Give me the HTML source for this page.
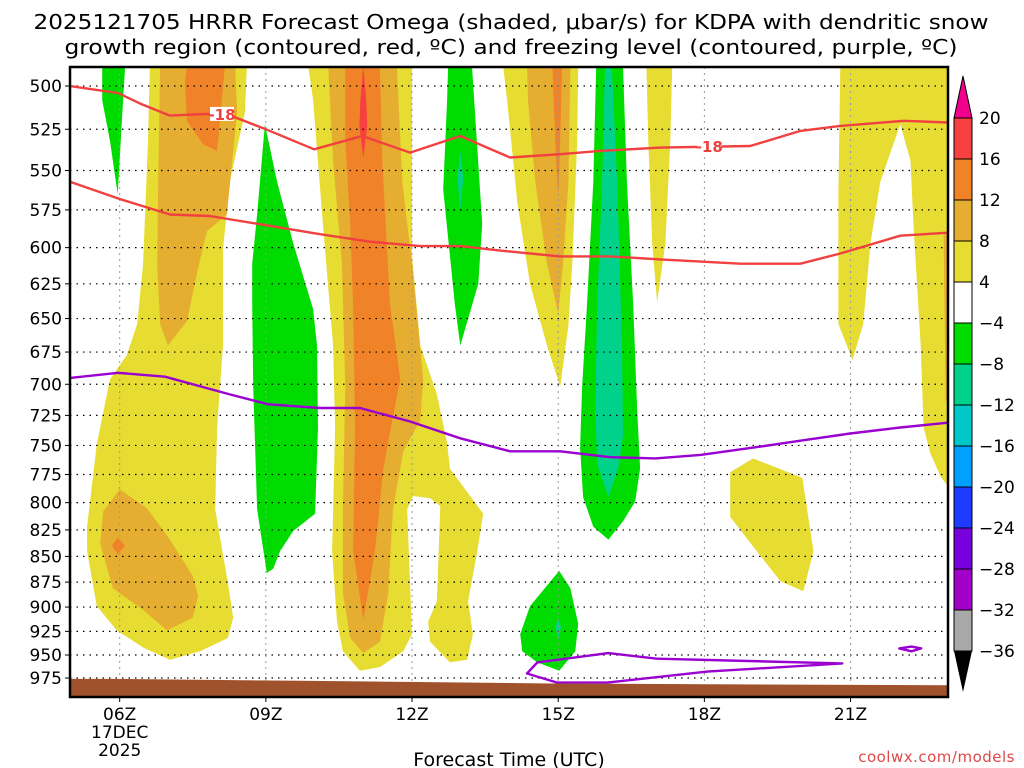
<!DOCTYPE html>
<html><head><meta charset="utf-8"><style>
html,body{margin:0;padding:0;background:#fff;}
svg{display:block;font-family:"DejaVu Sans","Liberation Sans",sans-serif;}
</style></head><body>
<svg id="chart" width="1024" height="768" viewBox="0 0 1024 768" xmlns="http://www.w3.org/2000/svg">
<text x="511" y="29" font-size="20" text-anchor="middle" textLength="955" lengthAdjust="spacingAndGlyphs">2025121705 HRRR Forecast Omega (shaded, μbar/s) for KDPA with dendritic snow</text>
<text x="511" y="54" font-size="20" text-anchor="middle" textLength="893" lengthAdjust="spacingAndGlyphs">growth region (contoured, red, ºC) and freezing level (contoured, purple, ºC)</text>
<g id="plot"></g>
<g id="axes"></g>
<g id="cbar"></g>
<text x="509" y="766" font-size="19" text-anchor="middle">Forecast Time (UTC)</text>
<text x="1015" y="762" font-size="15" fill="#e04848" text-anchor="end" letter-spacing="0.5">coolwx.com/models</text>
</svg>
<script>
// ---- data ----
const pressureTicks = [500,525,550,575,600,625,650,675,700,725,750,775,800,825,850,875,900,925,950,975];
const hourTicks = [6,9,12,15,18,21];
const hourTickLabels = ["06Z","09Z","12Z","15Z","18Z","21Z"];
const cbarLevels = [20,16,12,8,4,-4,-8,-12,-16,-20,-24,-28,-32,-36];
const cbarColors = ["#f84040","#f08228","#e6ae30","#e6dc32","#ffffff","#00dc00","#00d28c","#00c8c8","#00a0ff","#1e3cff","#7800dc","#a000c8","#a8a8a8"];
// omega filled contour regions: [hour, hPa]
const yellowLeft = [[6.62,489],[8.61,489],[8.57,515],[8.26,557],[8.12,601],[8.12,670],[8.0,735],[7.96,806],[8.22,876],[8.33,911],[8.22,932],[7.65,946],[7.03,955],[6.48,942],[5.94,924],[5.53,899],[5.33,845],[5.33,822],[5.53,749],[5.8,696],[6.15,677],[6.36,654],[6.48,611],[6.58,532]];
const goldLeftUpper = [[6.83,489],[8.37,489],[8.41,515],[8.2,578],[7.79,589],[7.59,617],[7.38,652],[6.99,670],[6.83,654],[6.77,611],[6.79,557]];
const orangeLeftUpper = [[7.38,489],[8.16,489],[8.0,538],[7.71,534],[7.38,520],[7.34,498]];
const goldLeftLower = [[6.0,788],[6.56,805],[7.03,834],[7.5,869],[7.61,889],[7.5,911],[6.97,924],[6.48,903],[5.86,881],[5.6,838],[5.66,808]];
const orangeLeftLower = [[5.96,832],[6.11,840],[5.96,848],[5.84,840]];
const greenLeft = [[5.64,489],[6.11,489],[6.07,508],[5.96,565],[5.8,532],[5.64,508]];
const green09 = [[8.98,522],[9.23,557],[9.56,597],[9.97,643],[10.05,670],[10.07,735],[10.01,810],[9.56,826],[9.29,845],[9.15,862],[9.02,866],[8.82,806],[8.74,702],[8.72,640],[8.72,611],[8.82,578]];
const yellowCenter = [[9.87,489],[12.0,489],[12.0,605],[12.17,670],[12.51,708],[12.72,748],[12.78,770],[13.46,810],[13.34,845],[13.15,894],[13.25,928],[13.13,955],[12.78,958],[12.37,936],[12.33,915],[12.51,894],[12.53,866],[12.58,803],[12.37,796],[12.02,794],[11.9,806],[12.0,928],[11.82,946],[11.34,963],[10.93,967],[10.58,946],[10.46,915],[10.36,845],[10.42,735],[10.38,670],[10.17,584],[9.97,508]];
const goldCenter = [[10.28,489],[11.69,489],[11.8,557],[12.02,617],[12.23,696],[12.17,729],[11.82,755],[11.61,806],[11.51,886],[11.34,936],[11.0,948],[10.73,932],[10.58,886],[10.58,806],[10.63,702],[10.56,611],[10.38,544]];
const orangeCenter = [[10.63,489],[11.34,489],[11.39,544],[11.55,640],[11.76,696],[11.61,726],[11.41,770],[11.24,845],[11.0,913],[10.79,845],[10.83,735],[10.79,640],[10.73,584],[10.63,532]];
const redCenter = [[11.0,489],[11.06,508],[11.08,523],[11.0,542],[10.92,523],[10.94,508]];
const green13 = [[12.74,489],[13.23,489],[13.44,584],[13.36,625],[12.99,670],[12.88,640],[12.64,562],[12.72,508]];
const teal13 = [[12.99,538],[13.05,555],[12.99,575],[12.93,555]];
const yellow15 = [[13.87,489],[15.41,489],[15.39,532],[15.29,611],[15.21,655],[15.04,702],[14.77,670],[14.42,625],[14.16,570],[13.95,508]];
const gold15 = [[14.36,489],[15.25,489],[15.21,557],[15.1,611],[15.0,646],[14.77,611],[14.53,557],[14.38,508]];
const orange15 = [[14.88,489],[15.08,489],[15.04,532],[15.0,567],[14.94,532]];
const green16 = [[15.78,489],[16.33,489],[16.41,557],[16.54,640],[16.62,719],[16.68,770],[16.58,799],[16.33,817],[16.03,834],[15.72,822],[15.51,795],[15.45,752],[15.49,702],[15.59,640],[15.72,557]];
const teal16 = [[15.96,489],[16.1,489],[16.21,557],[16.31,670],[16.33,742],[16.23,770],[16.03,795],[15.8,766],[15.76,719],[15.8,640],[15.9,557]];
const yellow17 = [[16.81,489],[17.34,489],[17.3,532],[17.2,597],[17.03,638],[16.93,597],[16.85,532]];
const yellow19 = [[18.53,773],[19.0,761],[20.01,778],[20.24,845],[20.03,884],[19.56,874],[19.21,853],[18.53,813]];
const yellowRight = [[20.79,489],[23.05,489],[23.05,788],[22.85,777],[22.64,757],[22.5,735],[22.44,670],[22.29,584],[22.23,544],[22.02,522],[21.61,557],[21.41,597],[21.26,654],[21.04,681],[20.75,654],[20.75,566]];
const goldRight = [[22.91,589],[23.05,595],[23.05,715],[22.95,713]];
const green15low = [[15.02,864],[15.25,881],[15.41,917],[15.35,946],[15.02,967],[14.57,958],[14.26,946],[14.22,928],[14.42,899]];
const teal15low = [[15.0,912],[15.06,921],[15.0,932],[14.94,921]];
// temperature contours
const dgzUpperLine = [[4.98,500],[5.97,504],[6.42,510],[7.03,517],[7.79,516],[8.37,518],[9.0,525],[9.99,537],[10.98,529],[11.96,539],[12.99,529],[14.01,542],[15.04,540],[15.86,538],[17.1,536],[18.94,535],[19.97,526],[20.79,523],[22.1,520],[23.0,521]];
const dgzLowerLine = [[4.98,557],[6.0,568],[7.03,578],[7.85,579],[9.0,585],[10.11,591],[11.14,596],[12.17,599],[12.99,599],[13.81,602],[15.04,606],[16.07,606],[17.1,608],[18.74,611],[19.97,611],[20.79,604],[22.02,592],[23.0,590]];
const dgzLabels = [[8.1,516],[18.1,535]];
const freezingLine = [[4.98,695],[5.97,691],[6.93,694],[8.26,708],[9.05,716],[10.11,719],[10.93,719],[11.96,730],[12.99,744],[14.01,755],[15.04,755],[16.07,760],[16.99,761],[17.92,758],[19.15,751],[19.97,746],[20.99,740],[22.02,735],[23.0,731]];
const freezingLoop = [[14.57,958],[16.03,948],[17.03,954],[20.83,959],[18.06,968],[16.01,980],[14.98,980],[14.36,970]];
const freezingSmall = [[22.0,943],[22.25,941],[22.45,943],[22.25,946]];
const terrainTop = [[4.98,976],[6.0,976],[9.7,978],[14.84,981],[23.05,983]];

// ---- axes ----
const X0=70, X1=948, Y0=67, Y1=697;
const H0=4.98, H1=23.0;
function xs(h){return X0+(h-H0)/(H1-H0)*(X1-X0);}
function ys(p){return 86+886.5*Math.log(p/500);}
const NS="http://www.w3.org/2000/svg";
function mk(tag,attrs,parent){const e=document.createElementNS(NS,tag);for(const k in attrs)e.setAttribute(k,attrs[k]);parent.appendChild(e);return e;}
function pts(arr){return arr.map(d=>xs(d[0]).toFixed(1)+","+ys(d[1]).toFixed(1)).join(" ");}
const plot=document.getElementById('plot'), axes=document.getElementById('axes'), cb=document.getElementById('cbar');
const clip=mk('clipPath',{id:'pc'},plot); mk('rect',{x:X0,y:Y0,width:X1-X0,height:Y1-Y0},clip);
const g=mk('g',{'clip-path':'url(#pc)'},plot);
const YEL="#e6dc32",GLD="#e6ae30",ORG="#f08228",RED="#f84040",GRN="#00dc00",TEA="#00d28c";
const regions=[
 [yellowLeft,YEL,'omega-4-8-left'],[goldLeftUpper,GLD,'omega-8-12-left-upper'],[orangeLeftUpper,ORG,'omega-12-16-left-upper'],
 [goldLeftLower,GLD,'omega-8-12-left-lower'],[orangeLeftLower,ORG,'omega-12-16-left-lower'],[greenLeft,GRN,'omega-neg-left'],
 [green09,GRN,'omega-neg-09z'],[yellowCenter,YEL,'omega-4-8-center'],[goldCenter,GLD,'omega-8-12-center'],[orangeCenter,ORG,'omega-12-16-center'],
 [redCenter,RED,'omega-16-20-center'],[green13,GRN,'omega-neg-13z'],[teal13,TEA,'omega-neg8-13z'],[yellow15,YEL,'omega-4-8-15z'],
 [gold15,GLD,'omega-8-12-15z'],[orange15,ORG,'omega-12-16-15z'],[green16,GRN,'omega-neg-16z'],[teal16,TEA,'omega-neg8-16z'],
 [yellow17,YEL,'omega-4-8-17z'],[yellow19,YEL,'omega-4-8-19z'],[yellowRight,YEL,'omega-4-8-right'],[goldRight,GLD,'omega-8-12-right'],
 [green15low,GRN,'omega-neg-15z-low'],[teal15low,TEA,'omega-neg8-15z-low']];
regions.forEach(r=>{
 const e=mk('polygon',{points:pts(r[0]),fill:r[1]},g);
 
 
});
// grid
pressureTicks.forEach(p=>{
 const y=ys(p);
 const l=mk('line',{x1:X0,x2:X1,y1:y,y2:y,stroke:'#000','stroke-width':1.2,'stroke-dasharray':'1.5 5'},g);
 
 
});
hourTicks.forEach(h=>{
 const x=xs(h);
 const l=mk('line',{x1:x,x2:x,y1:Y0,y2:Y1,stroke:'#999','stroke-width':1,'stroke-dasharray':'2 4'},g);
 
 
});
// contour lines
function line(arr,color,name,closed){
 const e=mk(closed?'polygon':'polyline',{points:pts(arr),fill:'none',stroke:color,'stroke-width':2.4,'stroke-linejoin':'round'},g);
 
 
}
line(dgzUpperLine,'#f04040','dgz-contour-upper',false);
line(dgzLowerLine,'#f04040','dgz-contour-lower',false);
line(freezingLine,'#9a00d0','freezing-level-line',false);
line(freezingLoop,'#9a00d0','freezing-level-loop',true);
line(freezingSmall,'#9a00d0','freezing-level-small-loop',true);
dgzLabels.forEach(d=>{
 const x=xs(d[0]), y=ys(d[1]);
 mk('rect',{x:x-12,y:y-7,width:24,height:14,fill:'#fff'},g);
 const t=mk('text',{x:x,y:y+6,'font-size':15,'font-weight':'bold',fill:'#f04040','text-anchor':'middle'},g);
 t.textContent='-18';
 
 
});
// terrain
const terr=terrainTop.map(d=>[d[0],d[1]]).concat([[23.05,1000],[4.98,1000]]);
const te=mk('polygon',{points:pts(terr),fill:'#a0522d'},g);


// frame
const fr=mk('rect',{x:X0,y:Y0,width:X1-X0,height:Y1-Y0,fill:'none',stroke:'#000','stroke-width':2.5},axes);


pressureTicks.forEach(p=>{
 const y=ys(p);
 mk('line',{x1:X0-5,x2:X0,y1:y,y2:y,stroke:'#000','stroke-width':1},axes);
 const t=mk('text',{x:62,y:y+6,'font-size':17,'text-anchor':'end'},axes);
 t.textContent=p;
 
 
});
hourTicks.forEach((h,i)=>{
 const x=xs(h);
 mk('line',{x1:x,x2:x,y1:Y1,y2:Y1+5,stroke:'#000','stroke-width':1},axes);
 const t=mk('text',{x:x,y:720,'font-size':17,'text-anchor':'middle'},axes);
 t.textContent=hourTickLabels[i];
 
 
});
[['17DEC',738],['2025',756]].forEach(a=>{
 const t=mk('text',{x:xs(6),y:a[1],'font-size':17,'text-anchor':'middle'},axes);
 t.textContent=a[0];
 
 
});
// colorbar
const CBX=954, CBW=18, CBT=118, CBB=651;
const step=(CBB-CBT)/cbarColors.length;
mk('polygon',{points:`${CBX},${CBT} ${CBX+CBW},${CBT} ${CBX+CBW/2},${76}`,fill:'#f0008c',stroke:'#000','stroke-width':1},cb);
cbarColors.forEach((c,i)=>{
 const r=mk('rect',{x:CBX,y:CBT+i*step,width:CBW,height:step,fill:c,stroke:'#000','stroke-width':1},cb);
 
 
});
mk('polygon',{points:`${CBX},${CBB} ${CBX+CBW},${CBB} ${CBX+CBW/2},${692}`,fill:'#000'},cb);
cbarLevels.forEach((v,i)=>{
 const t=mk('text',{x:979,y:CBT+i*step+6,'font-size':17},cb);
 t.textContent=v<0?'\u2212'+(-v):String(v);
 
 
});
</script>
</body></html>
